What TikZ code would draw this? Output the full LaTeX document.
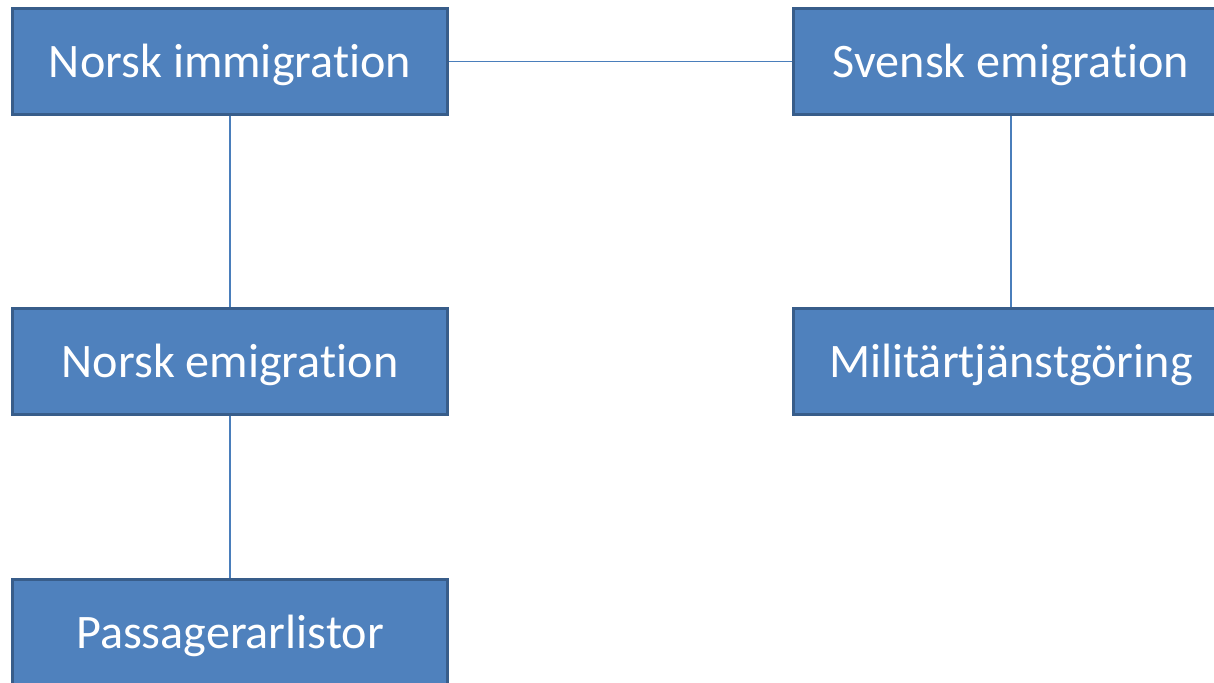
\documentclass[tikz,border=0pt]{standalone}
\usepackage{fontspec}
\setmainfont[Ligatures=NoCommon]{Carlito}
\definecolor{boxfill}{HTML}{4F81BD}
\definecolor{boxline}{HTML}{385D8A}
\definecolor{linkline}{HTML}{4A7EBB}
\begin{document}
\begin{tikzpicture}[
        topic/.style={rectangle, draw=boxline, fill=boxfill, line width=0.065cm,
            minimum width=8.7cm, minimum height=2.12cm, text=white,
            text height=0.8cm, text depth=0.18cm,
            font=\fontsize{27.4}{32}\selectfont},
        link/.style={draw=linkline, line width=0.03cm}
    ]
        \useasboundingbox (0,0) rectangle (24.28,13.64);
        \clip (0,0) rectangle (24.28,13.64);

        \node[topic] (norskimm) at (4.6, 12.41) {Norsk immigration};
        \node[topic] (svenskemi) at (20.22, 12.41) {Svensk emigration};
        \node[topic] (norskemi) at (4.6, 6.41) {Norsk emigration};
        \node[topic] (militar) at (20.22, 6.41) {Militärtjänstgöring};
        \node[topic] (passlist) at (4.6, 0.99) {Passagerarlistor};

        \draw[link] (norskimm) -- (svenskemi);
        \draw[link] (norskimm) -- (norskemi);
        \draw[link] (norskemi) -- (passlist);
        \draw[link] (svenskemi) -- (militar);

    \end{tikzpicture}
\end{document}
